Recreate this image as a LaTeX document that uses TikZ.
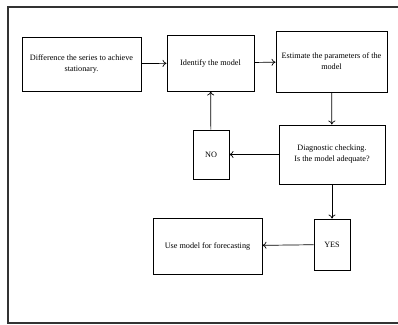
\documentclass[tikz,border=0pt]{standalone}
\usepackage{fontspec}
\setmainfont{Liberation Serif}
\usepackage{tikz}
\usetikzlibrary{arrows.meta}

\begin{document}
\begin{tikzpicture}[x=1pt,y=-1pt,
	stepbox/.style={draw,line width=0.9pt,align=center,inner sep=2pt,
		font=\fontsize{8.2}{11}\selectfont},
	flow/.style={draw,line width=0.7pt,-{To[length=4pt,width=7pt]}}]
	\useasboundingbox (0,0) rectangle (398,324);
	\clip (0,0) rectangle (398,324);
	\draw[line width=1.4pt,black!80] (420,7) -- (8,7) -- (8,323) -- (420,323);
	\node[stepbox,minimum width=119pt,minimum height=54pt] (diff) at (81.5,64) {Difference the series to achieve\\stationary.};
	\node[stepbox,minimum width=87pt,minimum height=56pt] (ident) at (210.5,63) {Identify the model};
	\node[stepbox,minimum width=111pt,minimum height=61pt] (estim) at (331.5,61.5) {Estimate the parameters of the\\model};
	\node[stepbox,minimum width=106pt,minimum height=59pt] (diag) at (332,154.5) {Diagnostic checking.\\Is the model adequate?};
	\node[stepbox,minimum width=36pt,minimum height=49pt] (no) at (211,154.5) {NO};
	\node[stepbox,minimum width=36pt,minimum height=51pt] (yes) at (332,244.5) {YES};
	\node[stepbox,minimum width=109pt,minimum height=56pt] (use) at (207.5,246) {Use model for forecasting};
	\draw[flow] (diff) -- (ident);
	\draw[flow] (ident) -- (estim);
	\draw[flow] (estim) -- (diag);
	\draw[flow] (diag) -- (no);
	\draw[flow] (no) -- (ident);
	\draw[flow] (diag) -- (yes);
	\draw[flow] (yes) -- (use);
\end{tikzpicture}
\end{document}
